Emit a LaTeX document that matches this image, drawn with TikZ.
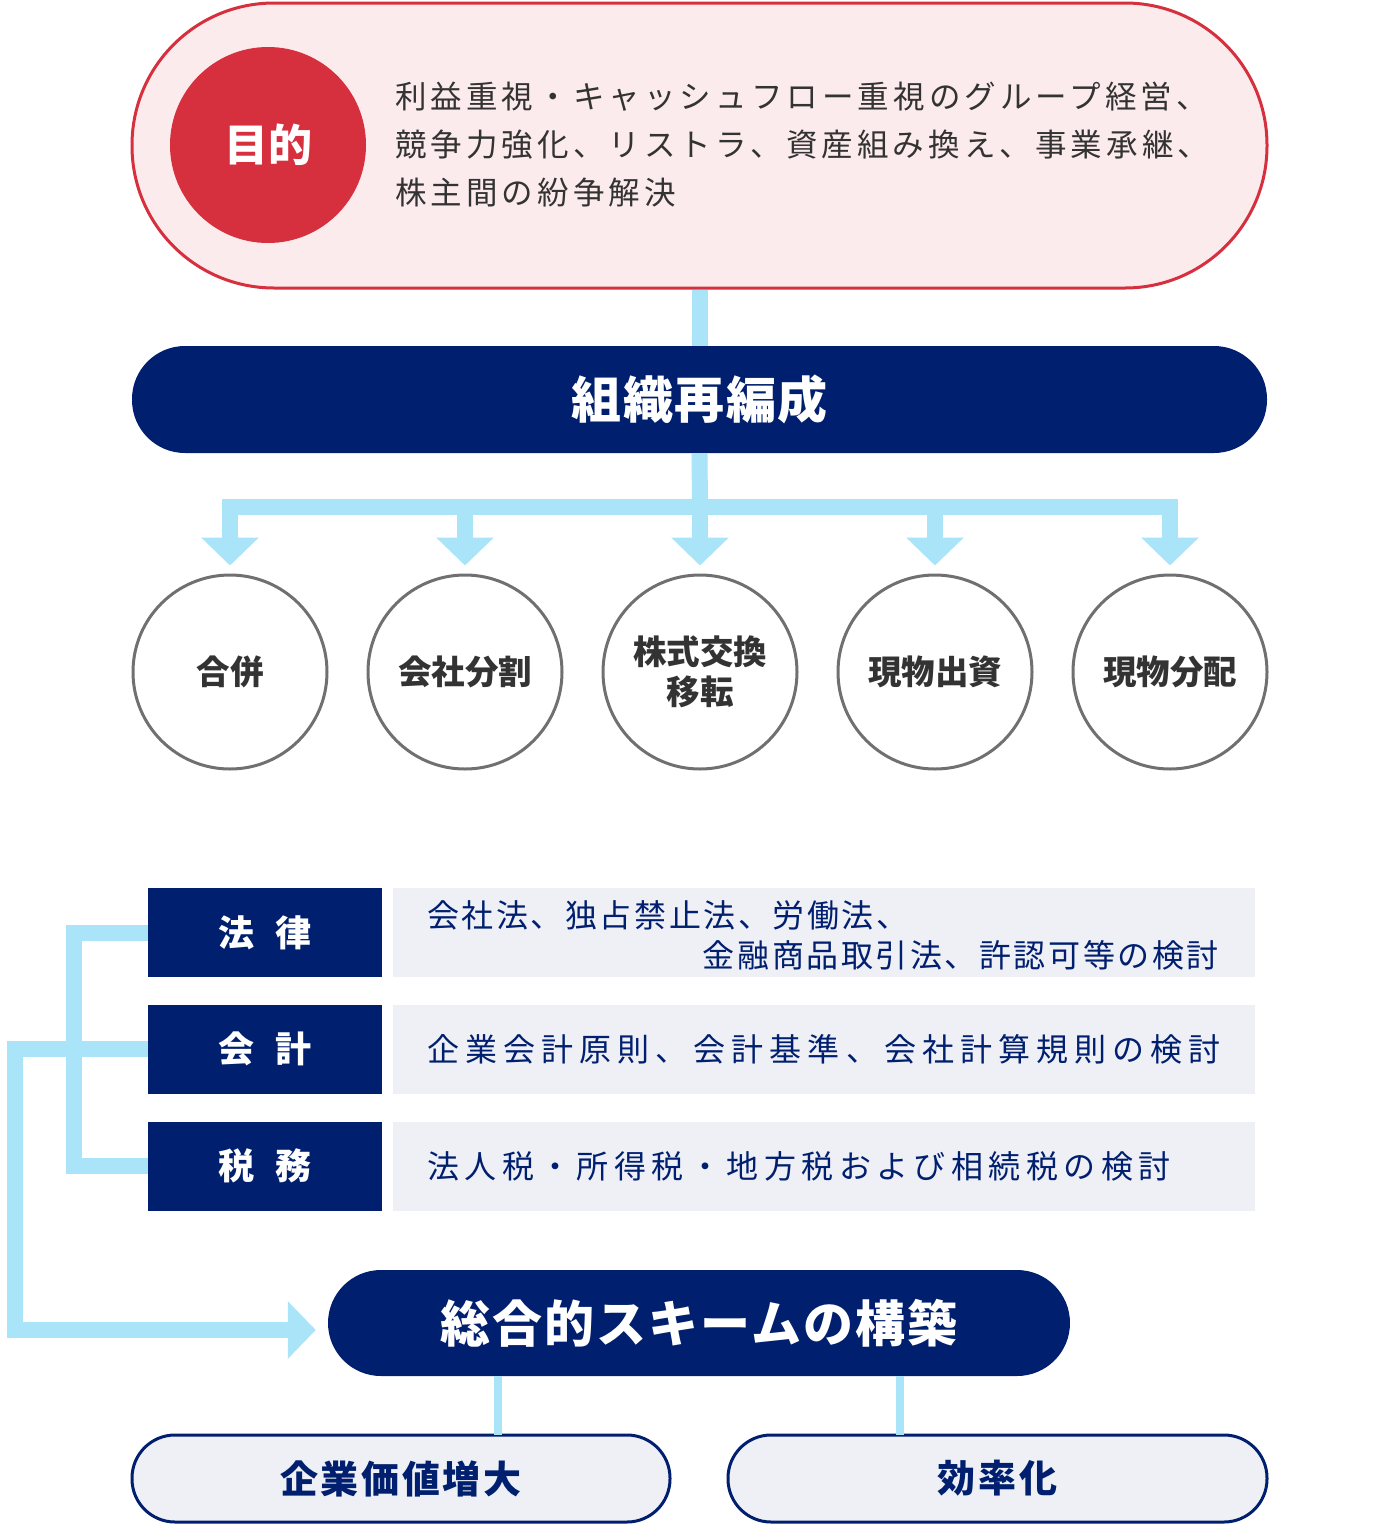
\documentclass[tikz,border=0pt]{standalone}
\usepackage{fontspec}
\setmainfont{Noto Sans CJK JP}
\usetikzlibrary{arrows.meta}
\definecolor{navy}{HTML}{001F6E}
\definecolor{sky}{HTML}{A9E4F8}
\definecolor{redc}{HTML}{D62F3E}
\definecolor{pinkbg}{HTML}{FCEBEC}
\definecolor{graybg}{HTML}{EFF0F6}
\definecolor{txt}{HTML}{333333}
\definecolor{circ}{HTML}{707070}
\newcommand{\ls}[1]{\addfontfeatures{LetterSpace=#1}}
\begin{document}
\begin{tikzpicture}[x=1pt,y=-1pt,
  conn/.style={draw=sky,line width=16pt},
  tipA/.style={-{Triangle[width=56pt,length=28pt]}},
  circnode/.style={circle,draw=circ,line width=3pt,minimum size=194pt,inner sep=0pt,font=\fontsize{33.5}{40}\selectfont\bfseries,text=txt,align=center},
  navybox/.style={fill=navy,minimum width=234pt,minimum height=89pt,inner sep=0pt,text=white,font=\fontsize{36}{40}\selectfont\bfseries},
  graybox/.style={fill=graybg,minimum width=862pt,minimum height=89pt,inner sep=0pt},
  rowtxt/.style={text=navy,font=\fontsize{32}{40}\selectfont,inner sep=0pt},
  btmpill/.style={draw=navy,line width=3pt,fill=graybg,rounded corners=43pt,minimum height=87pt,text=navy,font=\fontsize{38}{42}\selectfont\bfseries}]
\useasboundingbox (0,0) rectangle (1400,1540);
% top
\node[draw=redc,line width=3pt,fill=pinkbg,rounded corners=142pt,minimum width=1135pt,minimum height=285pt,inner sep=0pt] (top) at (699.5,145.5) {};
\node[circle,fill=redc,minimum size=196pt,inner sep=0pt,text=white,font=\fontsize{44}{50}\selectfont\bfseries] (goal) at (268,145) {目的};
\node[anchor=west,text=txt,align=left,inner sep=0pt,font=\fontsize{31.5}{48}\selectfont\ls{13}] (goaltxt) at (395,145) {利益重視・キャッシュフロー重視のグループ経営、\\競争力強化、リストラ、資産組み換え、事業承継、\\株主間の紛争解決};
% reorg
\node[fill=navy,rounded corners=53pt,minimum width=1135pt,minimum height=107pt,inner sep=0pt,text=white,font=\fontsize{50}{56}\selectfont\bfseries\ls{3}] (reorg) at (699.5,399.5) {組織再編成};
\draw[conn] (top.south) -- (reorg.north);
% circles
\foreach \n/\x/\t in {c1/230/合併,c2/465/会社分割,c3/700/{株式交換\\移転},c4/935/現物出資,c5/1170/現物分配}{
  \node[circnode] (\n) at (\x,672) {\t};
}
\coordinate (bus) at (700,507);
\draw[conn] (reorg.south) -- (bus);
\draw[conn,line cap=rect] (230,507) -- (1170,507);
\foreach \n in {c1,c2,c3,c4,c5}{
  \draw[conn,tipA] (\n.north |- bus) -- ([yshift=8pt]\n.north);
}
% rows
\node[navybox] (law) at (265,932.5) {法\hspace{0.6em}律};
\node[navybox] (acc) at (265,1049) {会\hspace{0.6em}計};
\node[navybox] (tax) at (265,1166) {税\hspace{0.6em}務};
\node[graybox] (lawg) at (824,932.5) {};
\node[graybox] (accg) at (824,1049) {};
\node[graybox] (taxg) at (824,1166) {};
\node[rowtxt,anchor=west,font=\fontsize{32}{40}\selectfont\ls{8}] (lawt1) at (427,915) {会社法、独占禁止法、労働法、};
\node[rowtxt,anchor=east,font=\fontsize{32}{40}\selectfont\ls{8}] (lawt2) at (1219,955) {金融商品取引法、許認可等の検討};
\node[rowtxt,anchor=west,font=\fontsize{32}{40}\selectfont\ls{19}] (acct) at (427,1049) {企業会計原則、会計基準、会社計算規則の検討};
\node[rowtxt,anchor=west,font=\fontsize{32}{40}\selectfont\ls{17}] (taxt) at (427,1166) {法人税・所得税・地方税および相続税の検討};
% scheme
\node[fill=navy,rounded corners=53pt,minimum width=742pt,minimum height=106pt,inner sep=0pt,text=white,font=\fontsize{50}{56}\selectfont\bfseries\ls{4}] (scheme) at (699,1323) {総合的スキームの構築};
% left connectors
\draw[conn,line cap=butt] (law.west) -- (73.5,932.5) -- (73.5,1166) -- (tax.west);
\draw[conn,tipA] (acc.west) -- (14.5,1049) -- (14.5,1330) -- ([xshift=-12pt]scheme.west |- 0,1330);
% bottom
\node[btmpill,minimum width=538pt,font=\fontsize{38}{42}\selectfont\bfseries\ls{7}] (val) at (401,1478.5) {企業価値増大};
\node[btmpill,minimum width=539pt,font=\fontsize{38}{42}\selectfont\bfseries\ls{9}] (eff) at (997.5,1478.5) {効率化};
\draw[draw=sky,line width=8pt] (498,1376) -- (498,1435);
\draw[draw=sky,line width=8pt] (900,1376) -- (900,1435);
\end{tikzpicture}
\end{document}
